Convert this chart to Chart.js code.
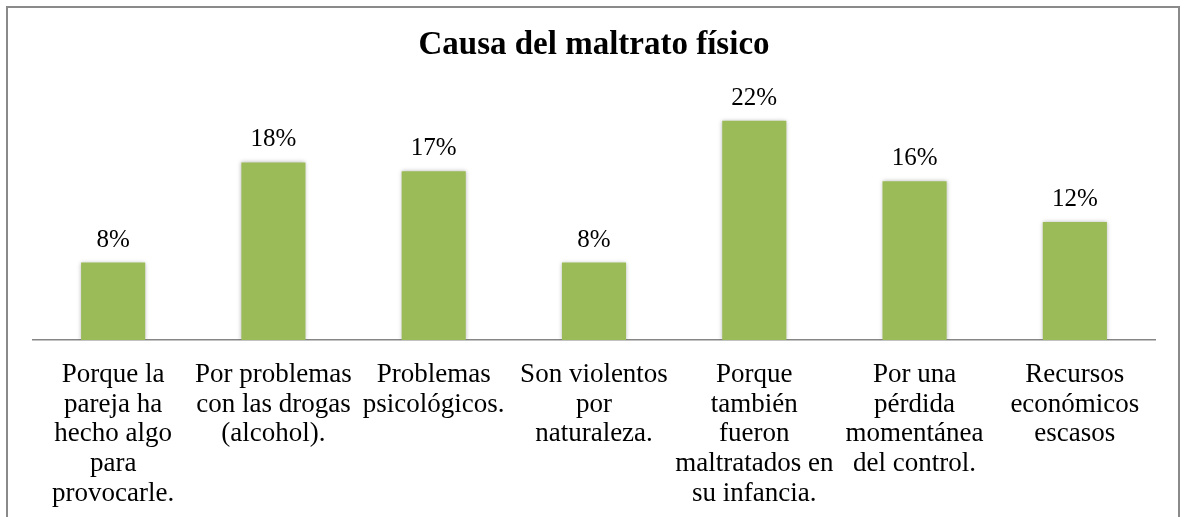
<!DOCTYPE html>
<html>
<head>
<meta charset="utf-8">
<script src="https://cdn.jsdelivr.net/npm/chart.js@4/dist/chart.umd.min.js"></script>
<style>
  html, body { margin: 0; padding: 0; background: #fff; }
  #frame { position: absolute; left: 6px; top: 6px; width: 1170px; height: 560px; border: 2px solid #8a8a8a; box-sizing: content-box; }
  #wrap { position: absolute; left: 0; top: 0; width: 1184px; height: 517px; }
</style>
</head>
<body>
<div id="frame"></div>
<div id="wrap"><canvas id="c" width="1184" height="517"></canvas></div>
<script>
const chartTitle = "Causa del maltrato físico";
const categories = [
  ["Porque la", "pareja ha", "hecho algo", "para", "provocarle."],
  ["Por problemas", "con las drogas", "(alcohol)."],
  ["Problemas", "psicológicos."],
  ["Son violentos", "por", "naturaleza."],
  ["Porque", "también", "fueron", "maltratados en", "su infancia."],
  ["Por una", "pérdida", "momentánea", "del control."],
  ["Recursos", "económicos", "escasos"]
];
const values = [7.8, 17.9, 17.0, 7.8, 22.1, 16.0, 11.9];
const valueLabels = ["8%", "18%", "17%", "8%", "22%", "16%", "12%"];

const serif = "'Liberation Serif', 'Times New Roman', serif";

const extras = {
  id: 'extras',
  beforeDatasetDraw(chart) {
    const ctx = chart.ctx;
    ctx.save();
    ctx.shadowColor = 'rgba(0,0,0,0.28)';
    ctx.shadowBlur = 4;
    ctx.shadowOffsetX = 0;
    ctx.shadowOffsetY = 0;
  },
  afterDatasetDraw(chart) {
    chart.ctx.restore();
  },
  afterDraw(chart) {
    const ctx = chart.ctx;
    ctx.save();
    ctx.fillStyle = '#000';
    ctx.textAlign = 'center';
    ctx.textBaseline = 'alphabetic';
    ctx.font = "bold 33px " + serif;
    ctx.fillText(chartTitle, 594, 54);
    ctx.font = "25px " + serif;
    const meta = chart.getDatasetMeta(0);
    meta.data.forEach((bar, i) => {
      ctx.fillText(valueLabels[i], bar.x, bar.y - 16);
    });
    ctx.restore();
  }
};

new Chart(document.getElementById('c'), {
  type: 'bar',
  data: {
    labels: categories,
    datasets: [{
      data: values,
      backgroundColor: '#9BBB59',
      borderWidth: 0,
      categoryPercentage: 1.0,
      barPercentage: 0.4
    }]
  },
  options: {
    responsive: false,
    animation: false,
    devicePixelRatio: 1,
    layout: { padding: { left: 33, right: 29, top: 92, bottom: 0 } },
    plugins: { legend: { display: false }, title: { display: false }, tooltip: { enabled: false } },
    scales: {
      y: { display: false, min: 0, max: 25 },
      x: {
        afterFit(scale) { scale.height = 177; },
        grid: { display: false, drawTicks: false, tickLength: 0 },
        border: { display: true, color: '#868686', width: 1.5 },
        ticks: {
          color: '#000',
          autoSkip: false,
          maxRotation: 0,
          minRotation: 0,
          padding: 20,
          font: { family: serif, size: 27, lineHeight: 1.1 }
        }
      }
    }
  },
  plugins: [extras]
});
</script>
</body>
</html>
